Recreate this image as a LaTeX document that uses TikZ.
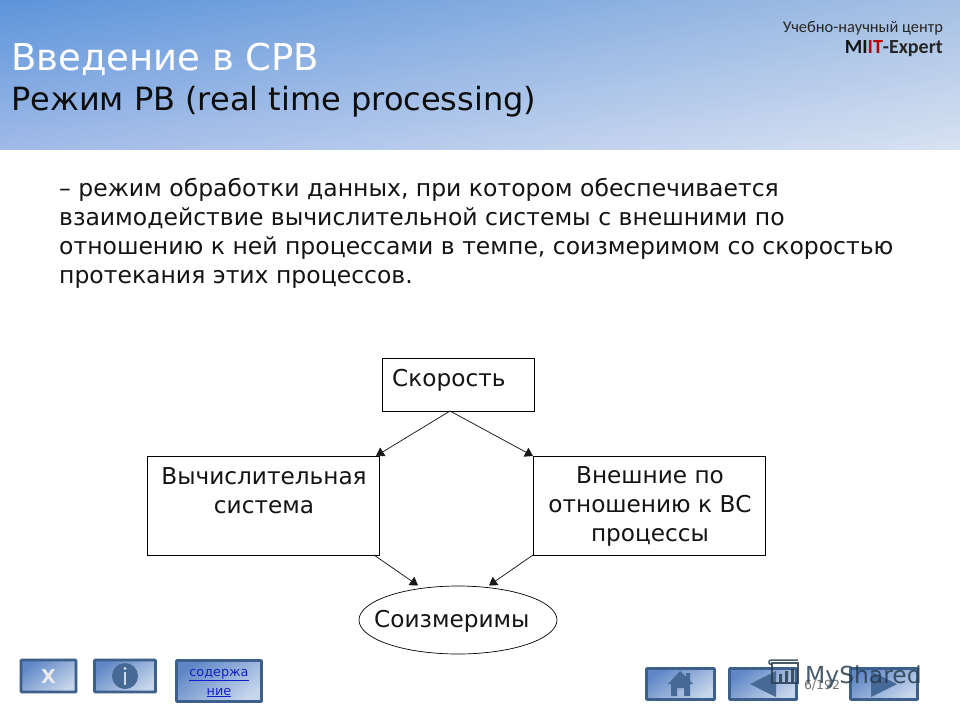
\documentclass[tikz,border=0pt]{standalone}
\usepackage{fontspec}
\setmainfont{DejaVu Sans}
\newfontfamily\logofont{Carlito}
\usetikzlibrary{shapes.geometric,arrows.meta,shadings}
\definecolor{btnedge}{RGB}{60,95,140}
\definecolor{btnicon}{RGB}{70,105,150}
\definecolor{linkblue}{RGB}{20,30,200}
\definecolor{wmark}{RGB}{40,62,80}
\definecolor{btnmid}{RGB}{198,214,236}
\definecolor{btndark}{RGB}{95,135,198}
\definecolor{headul}{RGB}{92,148,218}
\definecolor{headur}{RGB}{165,192,228}
\definecolor{headll}{RGB}{160,186,232}
\definecolor{headlr}{RGB}{216,226,242}
\tikzset{
  x=1pt,y=-1pt,
  diagbox/.style={draw=black,line width=0.8pt,fill=white,rectangle,inner sep=0pt},
  diagtext/.style={font=\fontsize{23.2}{29}\selectfont,text=black!92,align=center,inner sep=0pt},
  conn/.style={draw=black!90,line width=0.75pt,-{Triangle[length=8pt,width=10pt]}},
  navbtn/.style={draw=btnedge,line width=2.6pt,rounded corners=0.6pt,inner sep=0pt,top color=btndark,bottom color=btnmid,shading angle=35,rectangle},
  paratext/.style={font=\fontsize{23.5}{29}\selectfont,text=black!92,anchor=base west,inner sep=0pt},
}
\begin{document}
\begin{tikzpicture}
\useasboundingbox (0,0) rectangle (960,720);
\fill[white] (0,0) rectangle (960,720);
% header
\shade[upper left=headul,upper right=headur,lower left=headll,lower right=headlr] (0,0) rectangle (960,149);
\node[anchor=base west,inner sep=0pt,text=white,font=\fontsize{37}{40}\selectfont] (title) at (11,70) {Введение в СРВ};
\node[anchor=base west,inner sep=0pt,text=black!95,font=\fontsize{32}{36}\selectfont] (subtitle) at (11,110) {Режим РВ (real time processing)};
\node[anchor=base east,inner sep=0pt,text=black!85,font=\logofont\fontsize{16.4}{18}\selectfont] (logoa) at (943,32) {Учебно-научный центр};
\node[anchor=base east,inner sep=0pt,font=\logofont\bfseries\fontsize{20}{22}\selectfont] (logob) at (943,53) {\textcolor{black!92}{MI}\textcolor{red!75!black}{IT}\textcolor{black!85}{-Expert}};
% paragraph
\node[paratext] (p1) at (59,196) {– режим обработки данных, при котором обеспечивается};
\node[paratext] (p2) at (59,225) {взаимодействие вычислительной системы с внешними по};
\node[paratext] (p3) at (59,254) {отношению к ней процессами в темпе, соизмеримом со скоростью};
\node[paratext] (p4) at (59,283) {протекания этих процессов.};
% diagram
\node[diagbox,minimum width=152pt,minimum height=53pt] (speed) at (458,384.5) {};
\node[diagbox,minimum width=232pt,minimum height=99pt] (comp) at (263,505.5) {};
\node[diagbox,minimum width=232pt,minimum height=99pt] (ext) at (649,505.5) {};
\node[draw=black,line width=0.7pt,fill=white,ellipse,minimum width=198pt,minimum height=68pt,inner sep=0pt] (same) at (458,620) {};
\node[diagtext,anchor=base west] (speedt) at (392,386) {Скорость};
\node[diagtext] (compt) at (264,491) {Вычислительная\\система};
\node[diagtext] (extt) at (650,506) {Внешние по\\отношению к ВС\\процессы};
\node[diagtext,anchor=base west] (samet) at (374,627) {Соизмеримы};
\coordinate (top) at (450,411);
\coordinate (cl) at (376,456);
\coordinate (cr) at (533,456);
\coordinate (bl) at (374,555);
\coordinate (br) at (533,555);
\coordinate (el) at (418,585.5);
\coordinate (er) at (489,585.5);
\draw[conn] (top) -- (cl);
\draw[conn] (top) -- (cr);
\draw[conn] (bl) -- (el);
\draw[conn] (br) -- (er);
% left buttons
\node[navbtn,minimum width=55pt,minimum height=32pt] (bx) at (48.5,676) {};
\node[text=white!92!black,font=\bfseries\fontsize{19}{20}\selectfont,inner sep=0pt] (bxt) at (48.5,676.5) {X};
\node[navbtn,minimum width=61pt,minimum height=32pt] (bi) at (125,676) {};
\fill[btnicon] (125,676) circle (13);
\fill[white!75!btnicon] (123.8,672) rectangle (126.2,685);
\fill[white!75!btnicon] (125,668.5) circle (1.7);
\node[navbtn,minimum width=85pt,minimum height=41pt] (bc) at (219,681) {};
\node[text=linkblue,font=\fontsize{12.8}{19}\selectfont,align=center,inner sep=0pt] (bct) at (219,683) {\underline{содержа}\\\underline{ние}};
% right buttons
\node[navbtn,minimum width=68pt,minimum height=31pt] (bh) at (680.5,684) {};
\fill[btnicon] (668,684) -- (680,671) -- (686,677) -- (686,673) -- (690,673) -- (690,681) -- (693,684) -- (690,684) -- (690,696) -- (684,696) -- (684,688) -- (677,688) -- (677,696) -- (671,696) -- (671,684) -- cycle;
\node[navbtn,minimum width=67pt,minimum height=31pt] (bb) at (763,684) {};
\fill[btnicon] (750,684) -- (776,671) -- (776,697) -- cycle;
\node[navbtn,minimum width=67pt,minimum height=31pt] (bn) at (884,684) {};
\fill[btnicon] (871,671) -- (897,684) -- (871,697) -- cycle;
% watermark and page number
\node[anchor=base,inner sep=0pt,text=black!55,font=\fontsize{12.5}{14}\selectfont] (page) at (822,689) {6/192};
\begin{scope}[draw=wmark,opacity=0.85,line width=1.5pt]
\draw (772,663) rectangle (798,683);
\draw (770,660) -- (798,660) (770,660) .. controls (768,662) and (769,665) .. (772,664);
\fill[wmark] (779,674) rectangle (782,682) (785,671) rectangle (788,682) (791,669) rectangle (794,682);
\end{scope}
\node[anchor=base west,inner sep=0pt,text=wmark,opacity=0.85,font=\fontsize{23.4}{24}\selectfont] (wm) at (805,683) {MyShared};
\end{tikzpicture}
\end{document}
